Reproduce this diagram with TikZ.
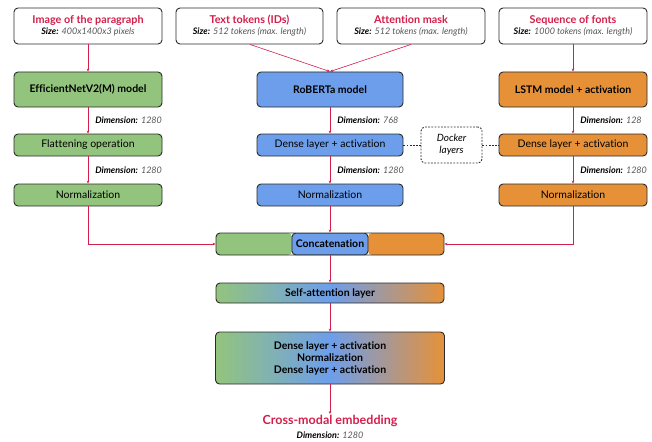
\documentclass[tikz,border=0pt]{standalone}
\usepackage{fontspec}
\setmainfont{Lato}[Ligatures=NoCommon]
\usetikzlibrary{arrows.meta,calc}

\definecolor{cgreen}{HTML}{93C47D}
\definecolor{cblue}{HTML}{6D9EEB}
\definecolor{corange}{HTML}{E69138}
\definecolor{cred}{HTML}{D21F4B}
\definecolor{cgrey}{HTML}{555555}
\definecolor{cline}{HTML}{2B2B2B}

% green -> blue -> orange from left to right
\pgfdeclarehorizontalshading{gbo}{100bp}{color(0bp)=(cgreen); color(25bp)=(cgreen); color(50bp)=(cblue); color(75bp)=(corange); color(100bp)=(corange)}

\newcommand{\dimlabel}[1]{{\bfseries\itshape Dimension:} {\itshape\color{cgrey}#1}}
\newcommand{\sizelabel}[1]{{\bfseries\itshape Size:} {\itshape\color{cgrey}#1}}
\newcommand{\intitle}[1]{\textcolor{cred}{\bfseries\fontsize{10.8}{12}\selectfont #1}}

\begin{document}
\begin{tikzpicture}[x=1pt,y=-1pt,
  box/.style={draw=cline, line width=0.9pt, rounded corners=4pt, minimum width=148pt,
    minimum height=22pt, inner sep=0pt, align=center, font=\fontsize{10.5}{12}\selectfont},
  inbox/.style={box, fill=white, minimum height=36pt, font=\fontsize{9}{11}\selectfont},
  model/.style={box, minimum height=35pt, font=\bfseries\fontsize{10.5}{12}\selectfont},
  dim/.style={text=black, font=\fontsize{9}{10}\selectfont, inner sep=0pt},
  flow/.style={cred, line width=0.6pt, -{Stealth[length=3pt,width=2.6pt]}}]
\useasboundingbox (0,0) rectangle (652,441);

% inputs
\node[inbox] (img) at (88,26) {\intitle{Image of the paragraph}\\ \sizelabel{400x1400x3 pixels}};
\node[inbox, minimum width=147pt] (tok) at (249.5,26) {\intitle{Text tokens (IDs)}\\ \sizelabel{512 tokens (max. length)}};
\node[inbox] (mask) at (411,26) {\intitle{Attention mask}\\ \sizelabel{512 tokens (max. length)}};
\node[inbox] (seq) at (573,26) {\intitle{Sequence of fonts}\\ \sizelabel{1000 tokens (max. length)}};

% three branches
\node[model, fill=cgreen] (effnet) at (88,89.5) {EfficientNetV2(M) model};
\node[model, fill=cblue, minimum width=146pt] (roberta) at (330,89.5) {RoBERTa model};
\node[model, fill=corange] (lstm) at (573,89.5) {LSTM model + activation};

\node[box, fill=cgreen] (flat) at (88,145) {Flattening operation};
\node[box, fill=cblue, minimum width=146pt] (dense1) at (330,145) {Dense layer + activation};
\node[box, fill=corange] (dense2) at (573,145) {Dense layer + activation};

\node[box, fill=cgreen] (norm1) at (88,195) {Normalization};
\node[box, fill=cblue, minimum width=146pt] (norm2) at (330,195) {Normalization};
\node[box, fill=corange] (norm3) at (573,195) {Normalization};

\node[box, dashed, dash pattern=on 1.8pt off 1.4pt, minimum width=61pt, minimum height=36pt,
  font=\itshape\fontsize{10}{12}\selectfont] (docker) at (451.5,145) {Docker\\layers};

% fusion
\node[box, minimum width=228pt, font=\bfseries\fontsize{10.5}{12}\selectfont, path picture={
  \fill[cgreen] (path picture bounding box.north west) rectangle
    ($(path picture bounding box.south west)!1/3!(path picture bounding box.south east)$);
  \fill[corange] ($(path picture bounding box.north west)!2/3!(path picture bounding box.north east)$)
    rectangle (path picture bounding box.south east);
  \filldraw[fill=cblue, draw=cline, line width=0.9pt]
    ($(path picture bounding box.north west)!1/3!(path picture bounding box.north east)$) rectangle
    ($(path picture bounding box.south west)!2/3!(path picture bounding box.south east)$);
  }] (concat) at (330,244) {Concatenation};
\node[box, shading=gbo, minimum width=228pt, minimum height=20pt,
  font=\bfseries\fontsize{10.5}{12}\selectfont] (selfatt) at (330,293) {Self-attention layer};
\node[box, shading=gbo, minimum width=229pt, minimum height=52pt,
  font=\bfseries\fontsize{10.5}{12}\selectfont] (final) at (330,358)
  {Dense layer + activation\\Normalization\\Dense layer + activation};

\node[text=cred, font=\bfseries\fontsize{12.5}{14}\selectfont, inner sep=1pt] (out) at (330,421) {Cross-modal embedding};
\node[dim] (outdim) at (330,435) {\dimlabel{1280}};

% connectors
\draw[flow] (img) -- (effnet);
\draw[flow] ([xshift=0.5pt]tok.south) -- (roberta.north);
\draw[flow] (mask.south) -- (roberta.north);
\draw[flow] (seq) -- (lstm);
\foreach \a/\b/\d in {effnet/flat/1280, flat/norm1/1280, roberta/dense1/768,
    dense1/norm2/1280, lstm/dense2/128, dense2/norm3/1280}
  \draw[flow] (\a) -- (\b) node[midway, right=7pt, dim] {\dimlabel{\d}};
\draw[flow] (norm1.south) |- (concat.west);
\draw[flow] (norm2) -- (concat);
\draw[flow] (norm3.south) |- (concat.east);
\draw[flow] (concat) -- (selfatt);
\draw[flow] (selfatt) -- (final);
\draw[flow] (final) -- (out);
\draw[cline, line width=0.7pt, dash pattern=on 1.8pt off 1.4pt] (dense1.east) -- (docker.west)
  (docker.east) -- (dense2.west);
\end{tikzpicture}
\end{document}
